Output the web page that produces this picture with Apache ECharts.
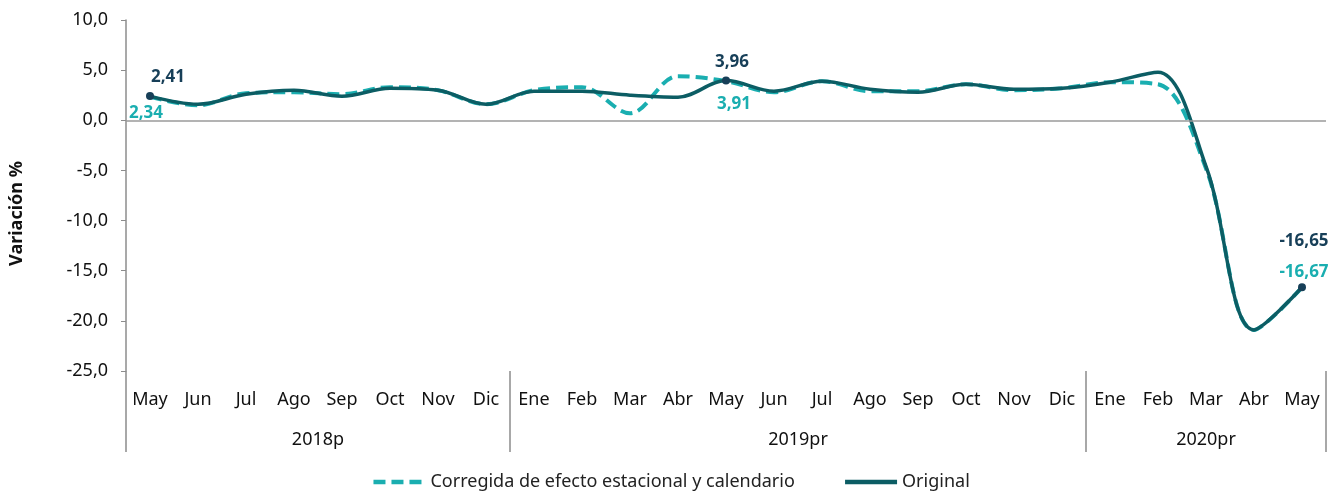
<!DOCTYPE html>
<html>
  <head>
    <meta charset="utf-8" />
    <title>Variación %</title>
    <script src="https://cdn.jsdelivr.net/npm/echarts@6/dist/echarts.min.js"></script>
    <style>
      * {
        padding: 0;
        margin: 0;
      }
      #chart-panel {
        width: 1341px;
        height: 496px;
      }
    </style>
  </head>
  <body>
    <div id="chart-panel"></div>
    <script type="text/javascript">
      var myChart = echarts.init(document.getElementById("chart-panel"));

      // meses (eje inferior) y años agrupados
      const months = [
        "May", "Jun", "Jul", "Ago", "Sep", "Oct", "Nov", "Dic",
        "Ene", "Feb", "Mar", "Abr", "May", "Jun", "Jul", "Ago", "Sep", "Oct", "Nov", "Dic",
        "Ene", "Feb", "Mar", "Abr", "May",
      ];
      const years = ["2018p", "2019pr", "2020pr"];
      const yearLengths = [8, 12, 5];

      // series
      const corregida = [
        2.34, 1.5, 2.7, 2.8, 2.6, 3.3, 3.0, 1.6,
        3.0, 3.3, 0.7, 4.4, 3.91, 2.8, 3.9, 2.9, 2.9, 3.6, 3.0, 3.2,
        3.8, 3.6, -4.8, -20.9, -16.67,
      ];
      const original = [
        2.41, 1.6, 2.6, 3.0, 2.4, 3.2, 3.0, 1.6,
        2.9, 2.9, 2.5, 2.3, 3.96, 2.9, 3.9, 3.1, 2.8, 3.6, 3.1, 3.2,
        3.8, 4.8, -4.6, -20.9, -16.65,
      ];
      const labeled = [0, 12, 24];

      const fontFamily = "Noto Sans";
      const darkLabel = "#173f58";
      const tealColor = "#1aaeb0";
      const darkLine = "#0c5d64";

      function fmt(v) {
        return v.toFixed(2).replace(".", ",");
      }

      // posiciones de separadores y centros de grupo
      var bounds = [0];
      var centers = [];
      for (var i = 0; i < yearLengths.length; i++) {
        var start = bounds[bounds.length - 1];
        centers.push(start + yearLengths[i] / 2);
        bounds.push(start + yearLengths[i]);
      }

      var labelOffsetsOrig = { 0: [18, 0], 12: [6, 0], 24: [2, -28] };
      var labelOffsetsCorr = { 0: [-4, 0], 12: [8, 0], 24: [2, 0] };

      var corrData = corregida.map(function (v, i) {
        if (labeled.indexOf(i) < 0) return v;
        var last = i === labeled[2];
        return {
          value: v,
          symbol: "circle",
          symbolSize: 2,
          label: {
            show: true,
            position: last ? "top" : "bottom",
            distance: last ? 6 : i === 12 ? 14 : 7,
            offset: labelOffsetsCorr[i],
            formatter: fmt(v),
          },
        };
      });

      var origData = original.map(function (v, i) {
        if (labeled.indexOf(i) < 0) return v;
        return {
          value: v,
          symbol: "circle",
          symbolSize: 8,
          label: {
            show: true,
            position: "top",
            distance: 6,
            offset: labelOffsetsOrig[i],
            formatter: fmt(v),
          },
        };
      });

      var option = {
        textStyle: { fontFamily: fontFamily },
        animation: false,
        grid: {
          left: 121,
          right: 15,
          top: 20,
          bottom: 125,
        },
        legend: {
          bottom: 0,
          left: "center",
          itemWidth: 52,
          itemHeight: 14,
          itemGap: 48,
          itemStyle: { opacity: 0 },
          lineStyle: { width: 4.5 },
          textStyle: { fontSize: 18, color: "#222", fontFamily: fontFamily },
          data: ["Corregida de efecto estacional y calendario", "Original"],
        },
        xAxis: [
          {
            type: "category",
            data: months,
            boundaryGap: true,
            axisLine: { show: false },
            axisTick: { show: false },
            axisLabel: {
              color: "#111",
              fontSize: 18,
              margin: 20,
              interval: 0,
            },
          },
          {
            type: "value",
            min: 0,
            max: months.length,
            position: "bottom",
            axisLine: { show: false },
            splitLine: { show: false },
            axisTick: {
              show: true,
              length: 81,
              customValues: bounds,
              lineStyle: { color: "#8c8c8c", width: 1.5 },
            },
            axisLabel: {
              show: true,
              customValues: centers,
              margin: 60,
              color: "#111",
              fontSize: 18,
              formatter: function (v) {
                var k = centers.indexOf(v);
                return k >= 0 ? years[k] : "";
              },
            },
          },
        ],
        yAxis: {
          type: "value",
          min: -25,
          max: 10,
          interval: 5,
          name: "Variación %",
          nameLocation: "middle",
          nameGap: 100,
          nameTextStyle: {
            fontSize: 18,
            fontWeight: "bold",
            color: "#111",
            padding: [0, 36, 0, 0],
          },
          axisLine: { show: true, lineStyle: { color: "#8c8c8c", width: 1.5 } },
          axisTick: { show: true, length: 5, lineStyle: { color: "#8c8c8c" } },
          splitLine: { show: false },
          axisLabel: {
            fontSize: 18,
            color: "#111",
            margin: 18,
            formatter: function (v) {
              return v.toFixed(1).replace(".", ",");
            },
          },
        },
        series: [
          {
            name: "Corregida de efecto estacional y calendario",
            type: "line",
            smooth: 0.35,
            symbol: "none",
            showSymbol: true,
            data: corrData,
            lineStyle: { color: tealColor, width: 4, type: [12, 6] },
            itemStyle: { color: tealColor },
            label: {
              color: tealColor,
              fontSize: 17,
              fontWeight: "bold",
            },
            markLine: {
              silent: true,
              symbol: "none",
              label: { show: false },
              lineStyle: { color: "#9a9a9a", width: 1.5, type: "solid" },
              data: [{ yAxis: 0 }],
            },
            z: 2,
          },
          {
            name: "Original",
            type: "line",
            smooth: 0.35,
            symbol: "none",
            showSymbol: true,
            data: origData,
            lineStyle: { color: darkLine, width: 3.5 },
            itemStyle: { color: darkLabel },
            label: {
              color: darkLabel,
              fontSize: 17,
              fontWeight: "bold",
            },
            z: 3,
          },
        ],
      };

      myChart.setOption(option);
    </script>
  </body>
</html>
